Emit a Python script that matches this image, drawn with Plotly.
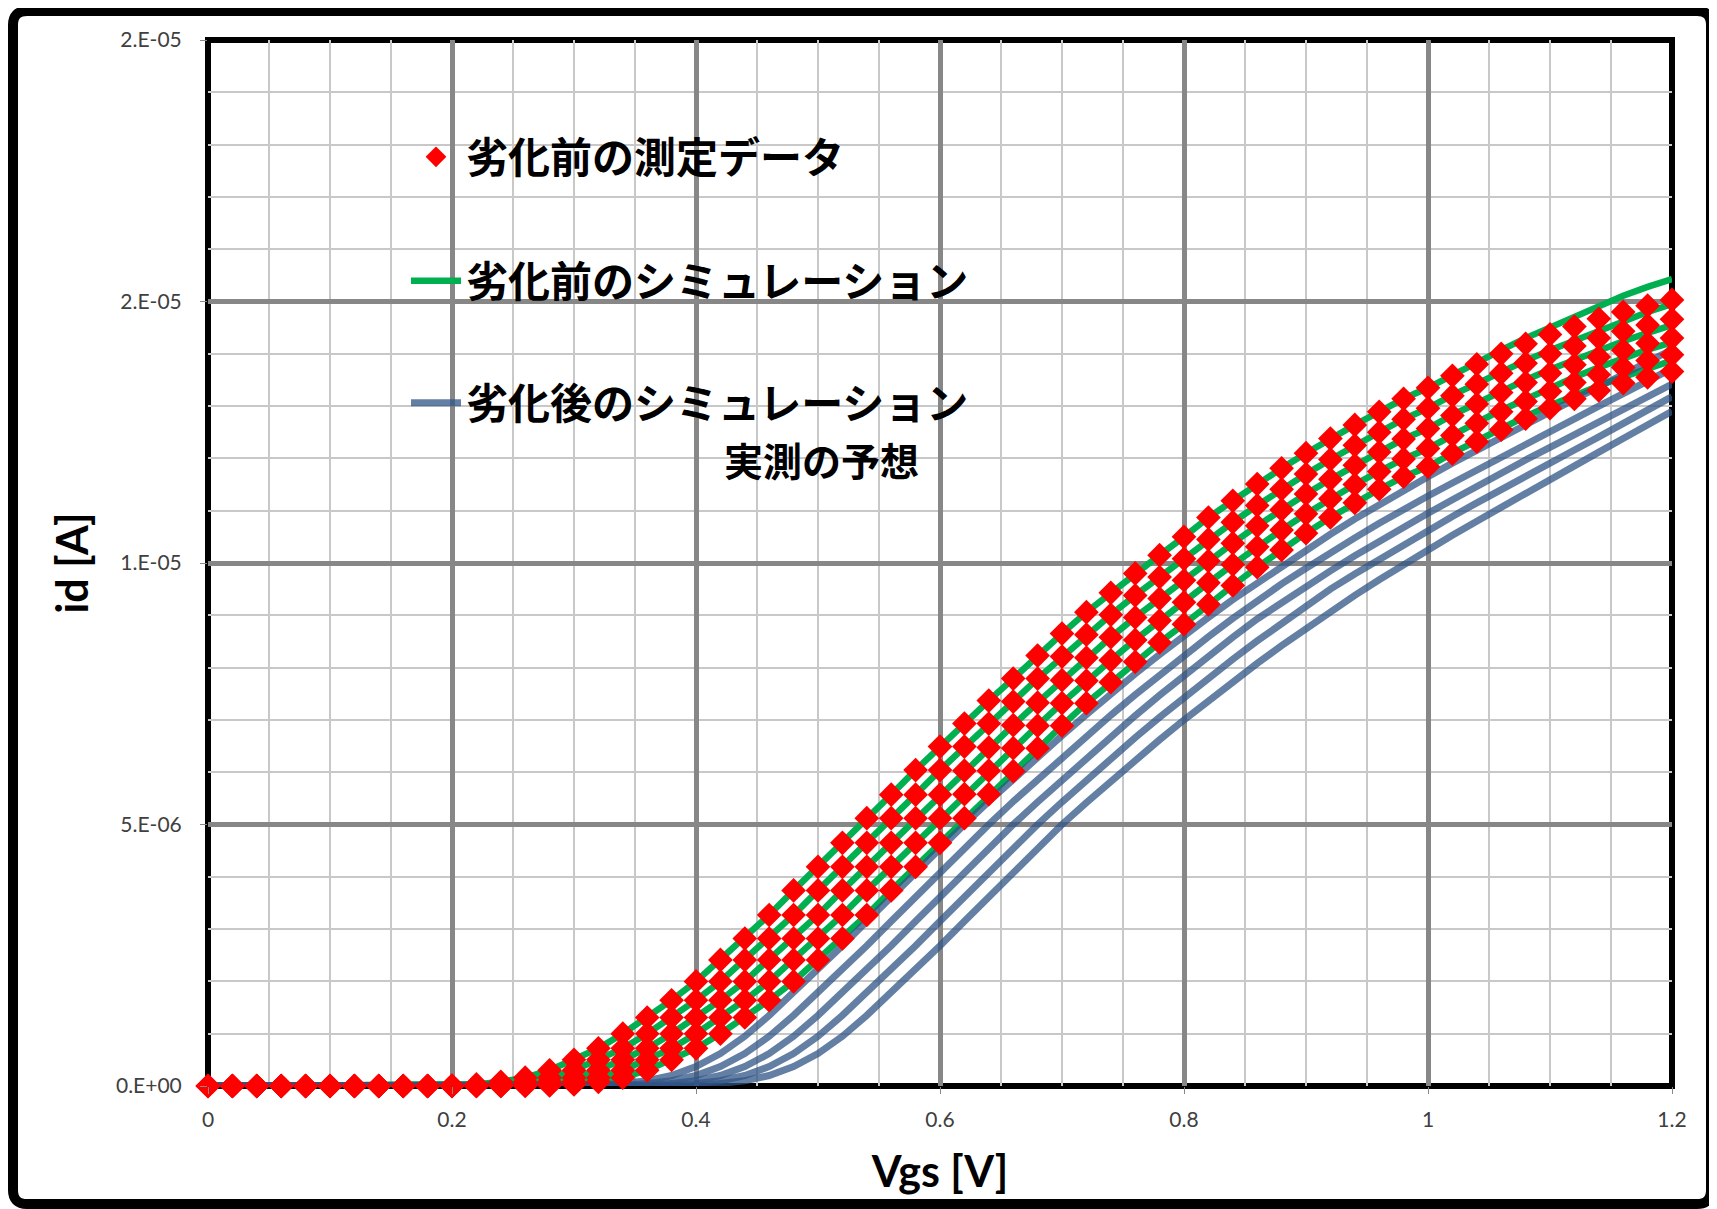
import plotly.graph_objects as go

# Gate voltage sweep [V]
VGS = [0.00, 0.02, 0.04, 0.06, 0.08, 0.10, 0.12, 0.14, 0.16, 0.18,
       0.20, 0.22, 0.24, 0.26, 0.28, 0.30, 0.32, 0.34, 0.36, 0.38,
       0.40, 0.42, 0.44, 0.46, 0.48, 0.50, 0.52, 0.54, 0.56, 0.58,
       0.60, 0.62, 0.64, 0.66, 0.68, 0.70, 0.72, 0.74, 0.76, 0.78,
       0.80, 0.82, 0.84, 0.86, 0.88, 0.90, 0.92, 0.94, 0.96, 0.98,
       1.00, 1.02, 1.04, 1.06, 1.08, 1.10, 1.12, 1.14, 1.16, 1.18, 1.20]

# Measured data before degradation [uA]
MEAS_1 = [0]*10 + [0.01, 0.03, 0.08, 0.16, 0.30, 0.50, 0.72, 1.00, 1.31, 1.64,
                   2.00, 2.41, 2.82, 3.27, 3.74, 4.19, 4.65, 5.12, 5.57, 6.04,
                   6.49, 6.93, 7.37, 7.79, 8.23, 8.65, 9.06, 9.43, 9.80, 10.15,
                   10.50, 10.87, 11.19, 11.51, 11.81, 12.10, 12.38, 12.64, 12.89, 13.14,
                   13.35, 13.58, 13.80, 14.00, 14.19, 14.37, 14.52, 14.67, 14.80, 14.92, 15.03]
MEAS_2 = [0]*11 + [0.01, 0.03, 0.08, 0.16, 0.30, 0.50, 0.72, 1.00, 1.31,
                   1.64, 2.00, 2.41, 2.82, 3.27, 3.74, 4.19, 4.65, 5.12, 5.57,
                   6.04, 6.49, 6.93, 7.35, 7.79, 8.21, 8.63, 9.01, 9.38, 9.73,
                   10.08, 10.45, 10.78, 11.10, 11.41, 11.70, 11.98, 12.25, 12.50, 12.75,
                   12.96, 13.20, 13.42, 13.63, 13.82, 14.00, 14.15, 14.30, 14.43, 14.55, 14.66]
MEAS_3 = [0]*12 + [0.01, 0.03, 0.08, 0.16, 0.30, 0.50, 0.72, 1.00,
                   1.31, 1.64, 2.00, 2.41, 2.82, 3.27, 3.74, 4.19, 4.65, 5.12,
                   5.57, 6.03, 6.47, 6.90, 7.33, 7.76, 8.19, 8.58, 8.96, 9.32,
                   9.67, 10.04, 10.38, 10.71, 11.02, 11.32, 11.60, 11.87, 12.12, 12.37,
                   12.57, 12.82, 13.04, 13.26, 13.45, 13.63, 13.79, 13.94, 14.07, 14.20, 14.30]
MEAS_4 = [0]*13 + [0.01, 0.03, 0.08, 0.16, 0.30, 0.50, 0.72,
                   1.00, 1.31, 1.64, 2.00, 2.41, 2.82, 3.27, 3.74, 4.19, 4.65,
                   5.12, 5.58, 6.03, 6.46, 6.89, 7.32, 7.75, 8.14, 8.53, 8.90,
                   9.25, 9.62, 9.97, 10.31, 10.63, 10.94, 11.23, 11.50, 11.75, 11.99,
                   12.19, 12.44, 12.67, 12.89, 13.09, 13.28, 13.45, 13.60, 13.74, 13.87, 13.98]
MEAS_5 = [0]*14 + [0.01, 0.03, 0.08, 0.16, 0.30, 0.50,
                   0.72, 1.00, 1.31, 1.64, 2.00, 2.41, 2.82, 3.27, 3.74, 4.19,
                   4.65, 5.12, 5.58, 6.02, 6.46, 6.89, 7.32, 7.72, 8.11, 8.48,
                   8.83, 9.21, 9.57, 9.92, 10.25, 10.57, 10.87, 11.15, 11.41, 11.65,
                   11.84, 12.09, 12.32, 12.55, 12.76, 12.96, 13.14, 13.30, 13.44, 13.55, 13.66]

# Simulation before degradation [uA]
SIM_PRE_1 = [0]*10 + [0.01, 0.03, 0.08, 0.16, 0.30, 0.50, 0.72, 1.00, 1.31, 1.64,
                      2.00, 2.41, 2.82, 3.27, 3.74, 4.19, 4.65, 5.12, 5.57, 6.04,
                      6.49, 6.93, 7.37, 7.79, 8.23, 8.65, 9.06, 9.43, 9.80, 10.15,
                      10.50, 10.87, 11.19, 11.51, 11.81, 12.10, 12.38, 12.64, 12.89, 13.14,
                      13.35, 13.60, 13.84, 14.07, 14.30, 14.51, 14.72, 14.92, 15.11, 15.28, 15.43]
SIM_PRE_2 = [0]*11 + [0.01, 0.03, 0.08, 0.16, 0.30, 0.50, 0.72, 1.00, 1.31,
                      1.64, 2.00, 2.41, 2.82, 3.27, 3.74, 4.19, 4.65, 5.12, 5.57,
                      6.04, 6.49, 6.93, 7.35, 7.79, 8.21, 8.63, 9.01, 9.38, 9.73,
                      10.08, 10.45, 10.78, 11.10, 11.41, 11.70, 11.98, 12.25, 12.50, 12.75,
                      12.96, 13.21, 13.44, 13.66, 13.87, 14.07, 14.26, 14.45, 14.63, 14.80, 14.95]
SIM_PRE_3 = [0]*12 + [0.01, 0.03, 0.08, 0.16, 0.30, 0.50, 0.72, 1.00,
                      1.31, 1.64, 2.00, 2.41, 2.82, 3.27, 3.74, 4.19, 4.65, 5.12,
                      5.57, 6.03, 6.47, 6.90, 7.33, 7.76, 8.19, 8.58, 8.96, 9.32,
                      9.67, 10.04, 10.38, 10.71, 11.02, 11.32, 11.60, 11.87, 12.12, 12.37,
                      12.57, 12.83, 13.06, 13.29, 13.50, 13.70, 13.89, 14.07, 14.24, 14.40, 14.55]
SIM_PRE_4 = [0]*13 + [0.01, 0.03, 0.08, 0.16, 0.30, 0.50, 0.72,
                      1.00, 1.31, 1.64, 2.00, 2.41, 2.82, 3.27, 3.74, 4.19, 4.65,
                      5.12, 5.58, 6.03, 6.46, 6.89, 7.32, 7.75, 8.14, 8.53, 8.90,
                      9.25, 9.62, 9.97, 10.31, 10.63, 10.94, 11.23, 11.50, 11.75, 11.99,
                      12.19, 12.45, 12.69, 12.92, 13.14, 13.35, 13.55, 13.74, 13.92, 14.08, 14.22]
SIM_PRE_5 = [0]*14 + [0.01, 0.03, 0.08, 0.16, 0.30, 0.50,
                      0.72, 1.00, 1.31, 1.64, 2.00, 2.41, 2.82, 3.27, 3.74, 4.19,
                      4.65, 5.12, 5.58, 6.02, 6.46, 6.89, 7.32, 7.72, 8.11, 8.48,
                      8.83, 9.21, 9.57, 9.92, 10.25, 10.57, 10.87, 11.15, 11.41, 11.65,
                      11.84, 12.10, 12.34, 12.58, 12.80, 13.01, 13.21, 13.39, 13.56, 13.72, 13.87]

# Simulation after degradation [uA]
SIM_POST_1 = [0]*15 + [0.01, 0.02, 0.05, 0.10, 0.20,
                       0.37, 0.62, 0.95, 1.35, 1.78, 2.22, 2.68, 3.15, 3.62, 4.09,
                       4.55, 5.00, 5.44, 5.87, 6.29, 6.70, 7.10, 7.50, 7.88, 8.25,
                       8.62, 8.96, 9.30, 9.62, 9.94, 10.25, 10.55, 10.84, 11.12, 11.39,
                       11.65, 11.91, 12.16, 12.41, 12.65, 12.89, 13.13, 13.37, 13.61, 13.85, 14.08]
SIM_POST_2 = [0]*17 + [0.01, 0.05, 0.10,
                       0.20, 0.37, 0.62, 0.95, 1.35, 1.78, 2.22, 2.68, 3.15, 3.62,
                       4.09, 4.55, 5.00, 5.44, 5.86, 6.28, 6.69, 7.09, 7.48, 7.86,
                       8.23, 8.59, 8.94, 9.28, 9.60, 9.90, 10.20, 10.48, 10.76, 11.03,
                       11.28, 11.53, 11.78, 12.03, 12.28, 12.52, 12.76, 13.00, 13.24, 13.48, 13.72]
SIM_POST_3 = [0]*19 + [0.05,
                       0.10, 0.20, 0.37, 0.62, 0.95, 1.35, 1.78, 2.22, 2.68, 3.15,
                       3.62, 4.09, 4.55, 5.00, 5.43, 5.85, 6.27, 6.68, 7.08, 7.47,
                       7.85, 8.22, 8.58, 8.93, 9.25, 9.55, 9.85, 10.14, 10.42, 10.69,
                       10.95, 11.21, 11.47, 11.72, 11.97, 12.21, 12.45, 12.69, 12.93, 13.17, 13.42]
SIM_POST_4 = [0]*20 + [0.05, 0.10, 0.20, 0.37, 0.62, 0.95, 1.35, 1.78, 2.22, 2.68,
                       3.15, 3.62, 4.09, 4.55, 5.00, 5.43, 5.85, 6.26, 6.66, 7.05,
                       7.43, 7.80, 8.16, 8.51, 8.85, 9.18, 9.50, 9.79, 10.07, 10.35,
                       10.62, 10.89, 11.15, 11.41, 11.66, 11.91, 12.16, 12.41, 12.66, 12.92, 13.18]
SIM_POST_5 = [0]*21 + [0.05, 0.10, 0.20, 0.37, 0.62, 0.95, 1.35, 1.78, 2.22,
                       2.68, 3.15, 3.62, 4.09, 4.55, 5.00, 5.42, 5.83, 6.23, 6.62,
                       7.00, 7.37, 7.73, 8.08, 8.42, 8.75, 9.07, 9.38, 9.68, 9.97,
                       10.25, 10.53, 10.80, 11.07, 11.34, 11.60, 11.86, 12.12, 12.38, 12.64, 12.90]

MEAS = [MEAS_1, MEAS_2, MEAS_3, MEAS_4, MEAS_5]
SIM_PRE = [SIM_PRE_1, SIM_PRE_2, SIM_PRE_3, SIM_PRE_4, SIM_PRE_5]
SIM_POST = [SIM_POST_1, SIM_POST_2, SIM_POST_3, SIM_POST_4, SIM_POST_5]

X_TICKS = [0, 0.2, 0.4, 0.6, 0.8, 1.0, 1.2]
X_TICK_TEXT = ["0", "0.2", "0.4", "0.6", "0.8", "1", "1.2"]
Y_TICKS = [0, 5e-6, 1e-5, 1.5e-5, 2e-5]
Y_TICK_TEXT = ["0.E+00", "5.E-06", "1.E-05", "2.E-05", "2.E-05"]

LEG_MEAS = "劣化前の測定データ"
LEG_PRE = "劣化前のシミュレーション"
LEG_POST = "劣化後のシミュレーション"
NOTE = "実測の予想"

UA = 1e-6
fig = go.Figure()

for i, ys in enumerate(SIM_PRE):
    fig.add_trace(go.Scatter(
        x=VGS, y=[v * UA for v in ys], mode="lines",
        line=dict(color="#00B050", width=6.5),
        name=LEG_PRE, legend="legend2", showlegend=(i == 0), hoverinfo="skip"))

for i, ys in enumerate(SIM_POST):
    fig.add_trace(go.Scatter(
        x=VGS, y=[v * UA for v in ys], mode="lines",
        line=dict(color="rgba(48,84,134,0.75)", width=7),
        name=LEG_POST, legend="legend3", showlegend=(i == 0), hoverinfo="skip"))

for i, ys in enumerate(MEAS):
    fig.add_trace(go.Scatter(
        x=VGS, y=[v * UA for v in ys], mode="markers",
        marker=dict(symbol="diamond", color="#FF0000", size=19, line=dict(width=0)),
        cliponaxis=False,
        name=LEG_MEAS, legend="legend", showlegend=(i == 0), hoverinfo="skip"))

# The page places the figure 8 px from the top-left corner of the window.
OFF = 8
W, H = 1717 - OFF, 1209 - OFF
PLOT_L, PLOT_R, PLOT_T, PLOT_B = 208, 1672, 40, 1086   # page pixels
L, R, T, B = PLOT_L - OFF, W - (PLOT_R - OFF), PLOT_T - OFF, H - (PLOT_B - OFF)
PW, PH = W - L - R, H - T - B


def px(xp):
    return (xp - PLOT_L) / PW


def py(yp):
    return (PLOT_B - yp) / PH


tick_font = dict(family="Lato, Open Sans, sans-serif", size=21, color="#404040")
title_font = dict(family="Lato, Open Sans, sans-serif", size=43, color="#000000", weight="bold")
leg_font = dict(family="Noto Sans CJK JP", size=42, color="#000000", weight="bold")

legend_common = dict(bgcolor="rgba(0,0,0,0)", borderwidth=0, font=leg_font,
                     xanchor="left", yanchor="middle", itemwidth=50)

fig.update_layout(
    width=W, height=H,
    margin=dict(l=L, r=R, t=T, b=B),
    paper_bgcolor="white", plot_bgcolor="white",
    showlegend=True,
    legend=dict(x=px(406), y=py(157), **legend_common),
    legend2=dict(x=px(406), y=py(281), **legend_common),
    legend3=dict(x=px(406), y=py(403), **legend_common),
    xaxis=dict(
        range=[0, 1.2], tickmode="array", tickvals=X_TICKS, ticktext=X_TICK_TEXT,
        showgrid=True, gridcolor="#878787", gridwidth=4.5,
        minor=dict(tickmode="linear", tick0=0, dtick=0.05, showgrid=True,
                   gridcolor="#C8C8C8", gridwidth=1.5),
        ticks="outside", ticklen=7, tickcolor="#888888", tickwidth=1,
        ticklabelstandoff=8,
        tickfont=tick_font, zeroline=False, showline=False,
        title=dict(text="Vgs [V]", standoff=26, font=title_font),
    ),
    yaxis=dict(
        range=[0, 2e-5], tickmode="array", tickvals=Y_TICKS, ticktext=Y_TICK_TEXT,
        showgrid=True, gridcolor="#878787", gridwidth=4.5,
        minor=dict(tickmode="linear", tick0=0, dtick=1e-6, showgrid=True,
                   gridcolor="#C8C8C8", gridwidth=1.5),
        ticks="outside", ticklen=7, tickcolor="#888888", tickwidth=1,
        ticklabelstandoff=14,
        tickfont=tick_font, zeroline=False, showline=False,
        title=dict(text="id [A]", standoff=13, font=title_font),
    ),
    annotations=[dict(text=NOTE, xref="paper", yref="paper", x=px(821), y=py(459),
                      xanchor="center", yanchor="middle", showarrow=False,
                      font=dict(family="Noto Sans CJK JP", size=39, color="#000000", weight="bold"))],
)

# Plot-area frame
fig.add_shape(type="rect", xref="paper", yref="paper", x0=0, y0=0, x1=1, y1=1,
              line=dict(color="#000000", width=6), layer="between")

# Outer chart frame with rounded corners (page pixels)
x0, x1 = px(13), px(1711)
y0, y1 = py(1204), py(11)
rx, ry = 14 / PW, 14 / PH
path = (f"M{x0+rx},{y1} L{x1-rx},{y1} Q{x1},{y1} {x1},{y1-ry} L{x1},{y0+ry} "
        f"Q{x1},{y0} {x1-rx},{y0} L{x0+rx},{y0} Q{x0},{y0} {x0},{y0+ry} "
        f"L{x0},{y1-ry} Q{x0},{y1} {x0+rx},{y1} Z")
fig.add_shape(type="path", xref="paper", yref="paper", path=path,
              line=dict(color="#000000", width=10), layer="above")

fig.write_html("out.html")
